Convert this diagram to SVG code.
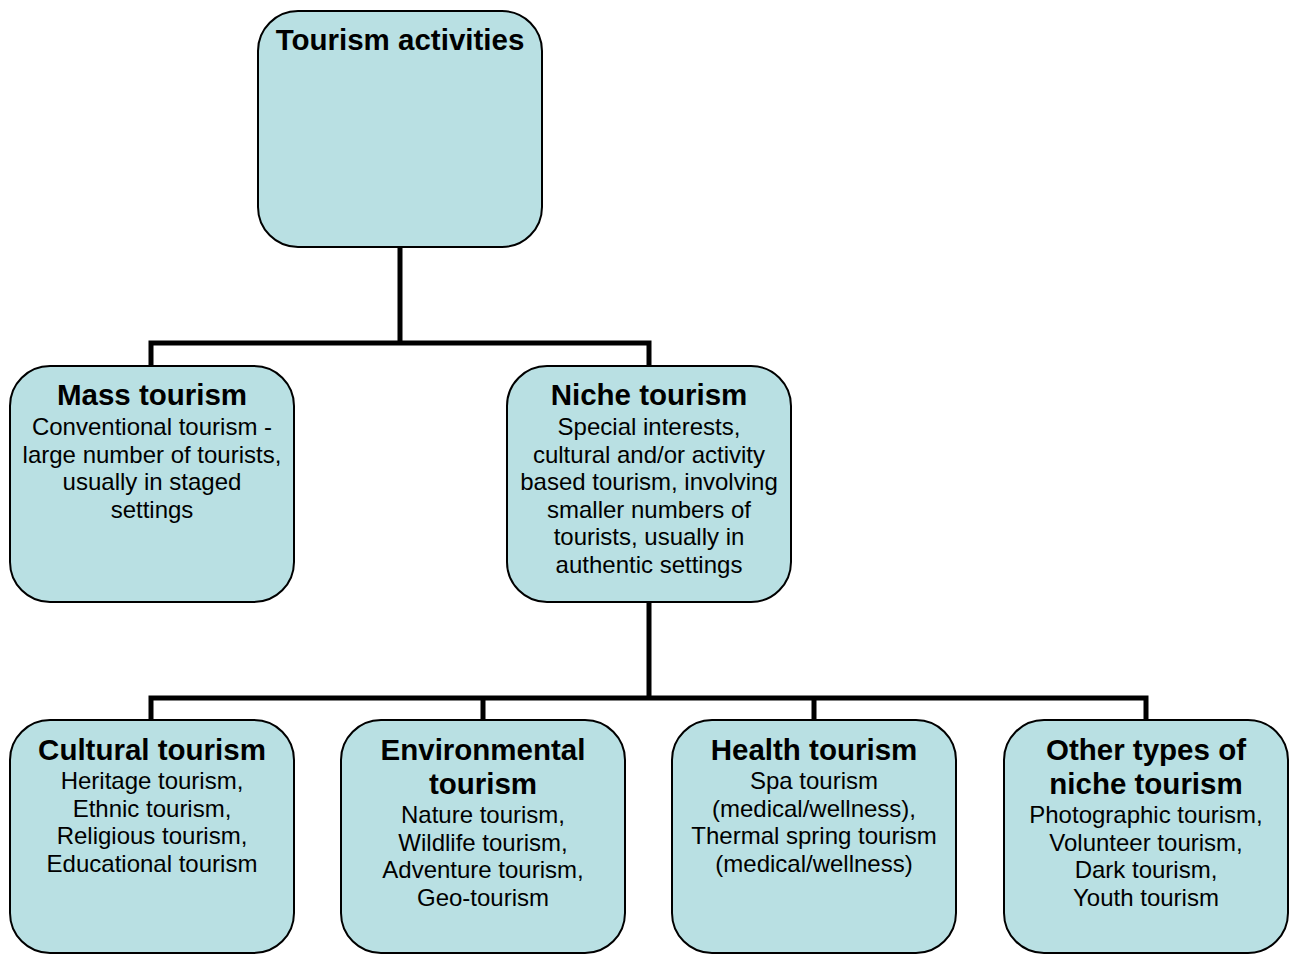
<svg xmlns="http://www.w3.org/2000/svg" width="1294" height="954" viewBox="0 0 1294 954">
<style>
.box{fill:#b9e0e3;stroke:#000;stroke-width:2}
.t{font-family:"Liberation Sans",Arial,sans-serif;font-weight:bold;font-size:29.5px;text-anchor:middle;fill:#000}
.b{font-family:"Liberation Sans",Arial,sans-serif;font-size:24px;text-anchor:middle;fill:#000}
.c{fill:none;stroke:#000;stroke-width:5;stroke-linecap:square}
</style>
<rect width="1294" height="954" fill="#fff"/>
<g id="connectors">
<path class="c" d="M400,248 V343 M151,343 H649 M151,343 V365 M649,343 V365"/>
<path class="c" d="M649,603 V698 M151,698 H1146 M151,698 V719 M483,698 V719 M814,698 V719 M1146,698 V719"/>
</g>
<g id="tourism-activities">
<rect class="box" x="258" y="11" width="284" height="236" rx="40"/>
<text class="t" x="400" y="50">Tourism activities</text>
</g>
<g id="mass-tourism">
<rect class="box" x="10" y="366" width="284" height="236" rx="40"/>
<text class="t" x="152" y="405">Mass tourism</text>
<text class="b" x="152" y="435">Conventional tourism -</text>
<text class="b" x="152" y="462.5">large number of tourists,</text>
<text class="b" x="152" y="490">usually in staged</text>
<text class="b" x="152" y="517.5">settings</text>
</g>
<g id="niche-tourism">
<rect class="box" x="507" y="366" width="284" height="236" rx="40"/>
<text class="t" x="649" y="405">Niche tourism</text>
<text class="b" x="649" y="435">Special interests,</text>
<text class="b" x="649" y="462.5">cultural and/or activity</text>
<text class="b" x="649" y="490">based tourism, involving</text>
<text class="b" x="649" y="517.5">smaller numbers of</text>
<text class="b" x="649" y="545">tourists, usually in</text>
<text class="b" x="649" y="572.5">authentic settings</text>
</g>
<g id="cultural-tourism">
<rect class="box" x="10" y="720" width="284" height="233" rx="40"/>
<text class="t" x="152" y="759.5">Cultural tourism</text>
<text class="b" x="152" y="789">Heritage tourism,</text>
<text class="b" x="152" y="816.5">Ethnic tourism,</text>
<text class="b" x="152" y="844">Religious tourism,</text>
<text class="b" x="152" y="871.5">Educational tourism</text>
</g>
<g id="environmental-tourism">
<rect class="box" x="341" y="720" width="284" height="233" rx="40"/>
<text class="t" x="483" y="759.5">Environmental</text>
<text class="t" x="483" y="793.5">tourism</text>
<text class="b" x="483" y="823">Nature tourism,</text>
<text class="b" x="483" y="850.5">Wildlife tourism,</text>
<text class="b" x="483" y="878">Adventure tourism,</text>
<text class="b" x="483" y="905.5">Geo-tourism</text>
</g>
<g id="health-tourism">
<rect class="box" x="672" y="720" width="284" height="233" rx="40"/>
<text class="t" x="814" y="759.5">Health tourism</text>
<text class="b" x="814" y="789">Spa tourism</text>
<text class="b" x="814" y="816.5">(medical/wellness),</text>
<text class="b" x="814" y="844">Thermal spring tourism</text>
<text class="b" x="814" y="871.5">(medical/wellness)</text>
</g>
<g id="other-niche-tourism">
<rect class="box" x="1004" y="720" width="284" height="233" rx="40"/>
<text class="t" x="1146" y="759.5">Other types of</text>
<text class="t" x="1146" y="793.5">niche tourism</text>
<text class="b" x="1146" y="823">Photographic tourism,</text>
<text class="b" x="1146" y="850.5">Volunteer tourism,</text>
<text class="b" x="1146" y="878">Dark tourism,</text>
<text class="b" x="1146" y="905.5">Youth tourism</text>
</g>
</svg>
